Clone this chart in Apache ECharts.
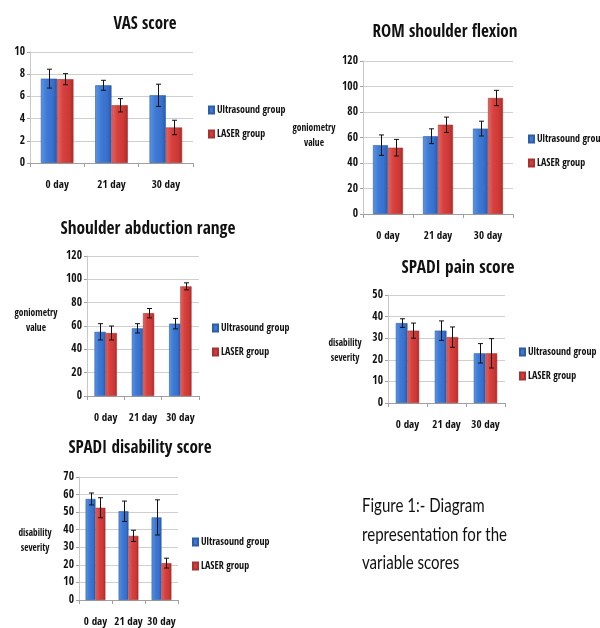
<!DOCTYPE html>
<html><head><meta charset="utf-8">
<script src="https://cdn.jsdelivr.net/npm/echarts@6/dist/echarts.min.js"></script>
<style>html,body{margin:0;padding:0;background:#fff}#c{width:600px;height:628px}</style>
</head><body><div id="c"></div>
<script>
var categories = ['0 day', '21 day', '30 day'];
var seriesNames = ['Ultrasound group', 'LASER group'];

var vasUltrasound = [7.6, 7.0, 6.1];
var vasUltrasoundErr = [0.85, 0.45, 1.0];
var vasLaser = [7.55, 5.2, 3.2];
var vasLaserErr = [0.5, 0.6, 0.65];

var romUltrasound = [54, 61, 67];
var romUltrasoundErr = [8, 5.8, 5.8];
var romLaser = [52, 70, 91];
var romLaserErr = [6.5, 6, 6];

var abdUltrasound = [55, 58, 62];
var abdUltrasoundErr = [7, 4, 4.5];
var abdLaser = [54, 71, 94];
var abdLaserErr = [6, 4, 3];

var painUltrasound = [37, 33.5, 23];
var painUltrasoundErr = [2, 4.5, 4.5];
var painLaser = [33.5, 30.5, 23];
var painLaserErr = [3.5, 4.7, 6.8];

var disUltrasound = [57.5, 50.5, 47];
var disUltrasoundErr = [3.4, 5.8, 10];
var disLaser = [52.5, 36.5, 21];
var disLaserErr = [5.7, 3.2, 2.8];

var COND = '"Open Sans Condensed", "Open Sans", sans-serif';
var CAPF = 'Lato, "Open Sans", sans-serif';

var panels = [
  {title: 'VAS score', tw: 63, us: vasUltrasound, usE: vasUltrasoundErr, la: vasLaser, laE: vasLaserErr, max: 10, step: 2,
   grid: {left: 30, top: 52, width: 163, height: 111}, tx: 145, ty: 24, legend: {left: 208, top: 104}, yname: null},
  {title: 'ROM shoulder flexion', tw: 145, us: romUltrasound, usE: romUltrasoundErr, la: romLaser, laE: romLaserErr, max: 120, step: 20,
   grid: {left: 363, top: 61, width: 150, height: 153}, tx: 445, ty: 32, legend: {left: 528, top: 133}, yname: {x: 314, y: 121}},
  {title: 'Shoulder abduction range', tw: 175, us: abdUltrasound, usE: abdUltrasoundErr, la: abdLaser, laE: abdLaserErr, max: 120, step: 20,
   grid: {left: 87, top: 256, width: 112, height: 140}, tx: 148, ty: 229, legend: {left: 212, top: 322}, yname: {x: 36, y: 306}},
  {title: 'SPADI pain score', tw: 113, us: painUltrasound, usE: painUltrasoundErr, la: painLaser, laE: painLaserErr, max: 50, step: 10,
   grid: {left: 388, top: 295, width: 117, height: 108}, tx: 458, ty: 268, legend: {left: 519, top: 346}, yname: {x: 345, y: 336}},
  {title: 'SPADI disability score', tw: 143, us: disUltrasound, usE: disUltrasoundErr, la: disLaser, laE: disLaserErr, max: 70, step: 10,
   grid: {left: 79, top: 477, width: 99, height: 125}, tx: 140, ty: 448, legend: {left: 192, top: 536}, yname: {x: 35, y: 526}}
];

var mctx = document.createElement('canvas').getContext('2d');
function fitScale(lines, font, target) {
  mctx.font = font;
  var w = 0;
  lines.forEach(function (l) { w = Math.max(w, mctx.measureText(l).width); });
  return w > 0 ? target / w : 1;
}

function grad(c1, c2, c3, c4) {
  return new echarts.graphic.LinearGradient(0, 0, 1, 0, [
    {offset: 0, color: c1}, {offset: 0.35, color: c2}, {offset: 0.75, color: c3}, {offset: 1, color: c4}
  ]);
}
var blueFill = grad('#5d95e2', '#3f7bd6', '#3670cc', '#2a58a8');
var redFill = grad('#e56662', '#d7423f', '#cc3835', '#a82c2a');

function errRender(side) {
  return function (params, api) {
    var x = api.value(0);
    var lo = api.coord([x, api.value(1)]);
    var hi = api.coord([x, api.value(2)]);
    var band = api.size([1, 0])[0];
    var cx = Math.round(lo[0] + side * band * 0.15) + 0.5;
    var cap = 2.5;
    var st = {stroke: '#111', lineWidth: 1};
    return {type: 'group', children: [
      {type: 'line', shape: {x1: cx, y1: lo[1], x2: cx, y2: hi[1]}, style: st},
      {type: 'line', shape: {x1: cx - cap, y1: lo[1], x2: cx + cap, y2: lo[1]}, style: st},
      {type: 'line', shape: {x1: cx - cap, y1: hi[1], x2: cx + cap, y2: hi[1]}, style: st}
    ]};
  };
}

var grids = [], xAxes = [], yAxes = [], series = [], legends = [], graphics = [];
panels.forEach(function (p, i) {
  grids.push(p.grid);
  xAxes.push({
    type: 'category', gridIndex: i, data: categories,
    axisLine: {lineStyle: {color: '#a0a0a0'}},
    axisTick: {show: true, alignWithLabel: false, length: 4, lineStyle: {color: '#a0a0a0'}},
    axisLabel: {interval: 0, color: '#111', fontWeight: 'bold', fontSize: 11, fontFamily: COND, margin: 17}
  });
  yAxes.push({
    type: 'value', gridIndex: i, min: 0, max: p.max, interval: p.step,
    axisLine: {show: true, lineStyle: {color: '#c8c8c8'}},
    axisTick: {show: true, length: 3, lineStyle: {color: '#a0a0a0'}},
    splitLine: {lineStyle: {color: '#cfcfcf'}},
    axisLabel: {color: '#111', fontWeight: 'bold', fontSize: 11.5, fontFamily: COND, margin: 5}
  });
  series.push({
    name: seriesNames[0], type: 'bar', xAxisIndex: i, yAxisIndex: i, data: p.us,
    barGap: '0%', barCategoryGap: '40%', itemStyle: {color: blueFill, borderColor: '#2f5da6', borderWidth: 0.6}, silent: true
  });
  series.push({
    name: seriesNames[1], type: 'bar', xAxisIndex: i, yAxisIndex: i, data: p.la,
    barGap: '0%', barCategoryGap: '40%', itemStyle: {color: redFill, borderColor: '#a83230', borderWidth: 0.6}, silent: true
  });
  series.push({
    name: 'err-us-' + i, type: 'custom', xAxisIndex: i, yAxisIndex: i, renderItem: errRender(-1), z: 5,
    data: p.us.map(function (v, k) { return [k, v - p.usE[k], v + p.usE[k]]; }), encode: {x: 0, y: [1, 2]}, silent: true
  });
  series.push({
    name: 'err-la-' + i, type: 'custom', xAxisIndex: i, yAxisIndex: i, renderItem: errRender(1), z: 5,
    data: p.la.map(function (v, k) { return [k, v - p.laE[k], v + p.laE[k]]; }), encode: {x: 0, y: [1, 2]}, silent: true
  });
  legends.push({
    data: [{name: seriesNames[0], itemStyle: {color: '#3c78d4'}}, {name: seriesNames[1], itemStyle: {color: '#d13c39'}}],
    orient: 'vertical', left: p.legend.left, top: p.legend.top, padding: 0,
    icon: 'rect', itemWidth: 5, itemHeight: 7, itemGap: 12, selectedMode: false,
    textStyle: {color: '#111', fontWeight: 'bold', fontSize: 10, lineHeight: 12, fontFamily: COND, padding: [0, 0, 0, -2]}
  });
  var tfont = 'bold 18px ' + COND;
  graphics.push({
    type: 'text', x: p.tx, y: p.ty, scaleX: fitScale([p.title], tfont, p.tw),
    style: {text: p.title, textAlign: 'center', textVerticalAlign: 'middle', fill: '#111', font: tfont}
  });
  if (p.yname) {
    var lines = (i === 1 || i === 2) ? ['goniometry', 'value'] : ['disability', 'severity'];
    var target = (i === 1 || i === 2) ? 43 : 33;
    var yfont = 'bold 10.5px ' + COND;
    graphics.push({
      type: 'text', x: p.yname.x, y: p.yname.y, scaleX: fitScale(lines, yfont, target),
      style: {text: lines.join('\n'), textAlign: 'center', textVerticalAlign: 'top', fill: '#111', lineHeight: 15, font: yfont}
    });
  }
});
var capLines = ['Figure 1:- Diagram', 'representation for the', 'variable scores'];
var capFont = '19px ' + CAPF;
graphics.push({
  type: 'text', x: 362, y: 492, scaleX: fitScale([capLines[1]], capFont, 145),
  style: {text: capLines.join('\n'), fill: '#111', font: capFont, lineHeight: 28.5, textVerticalAlign: 'top'}
});

var chart = echarts.init(document.getElementById('c'), null, {renderer: 'canvas'});
chart.setOption({
  backgroundColor: '#fff', animation: false,
  grid: grids, xAxis: xAxes, yAxis: yAxes, series: series, legend: legends, graphic: graphics
});
</script></body></html>
